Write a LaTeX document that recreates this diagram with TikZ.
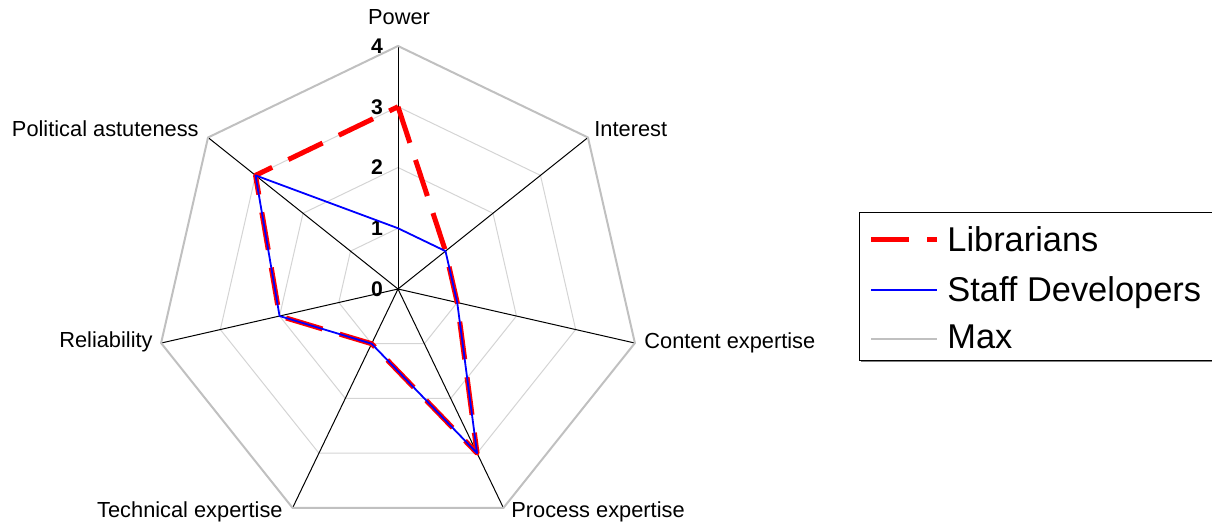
\documentclass[tikz,border=0pt]{standalone}
\usepackage{fontspec}
\setmainfont{Liberation Sans}
\definecolor{gridgray}{RGB}{212,212,212}
\definecolor{maxgray}{RGB}{192,192,192}
\definecolor{shadowgray}{RGB}{128,128,128}
\begin{document}
\begin{tikzpicture}[x=0.5pt,y=-0.5pt,
  axisline/.style={black, line width=0.5pt},
  gridring/.style={draw=gridgray, line width=0.5pt},
  maxline/.style={draw=maxgray, line width=1pt},
  libline/.style={draw=red, line width=2.5pt, dash pattern=on 19pt off 9pt, line join=round},
  staffline/.style={draw=blue, line width=0.9pt, line join=round},
  axislabel/.style={font=\fontsize{10.9}{13}\selectfont, inner sep=0pt},
  ticklabel/.style={font=\bfseries\fontsize{10.6}{12}\selectfont, inner sep=0pt},
  legtext/.style={font=\fontsize{17.2}{20}\selectfont, inner sep=0pt, anchor=base west}]
\useasboundingbox (0,0) rectangle (1212,524);

% centre of the radar and the seven axes (value 4 = radius 243)
\coordinate (O) at (398,289);
\begin{scope}[shift={(O)}]
  \foreach \k in {0,...,6} {
    \pgfmathsetmacro\ang{-90+\k*360/7}
    \coordinate (ax\k) at (\ang:243);
    \foreach \v in {1,2,3} {\coordinate (g\v-\k) at (\ang:\v*60.75);}
  }
  % Librarians
  \foreach \v [count=\k from 0] in {3,1,1,3,1,2,3} {
    \pgfmathsetmacro\ang{-90+\k*360/7}
    \coordinate (L\k) at (\ang:\v*60.75);
  }
  % Staff Developers
  \foreach \v [count=\k from 0] in {1,1,1,3,1,2,3} {
    \pgfmathsetmacro\ang{-90+\k*360/7}
    \coordinate (S\k) at (\ang:\v*60.75);
  }
\end{scope}

% inner grid rings
\foreach \v in {1,2,3}
  \draw[gridring] (g\v-0) \foreach \k in {1,...,6}{ -- (g\v-\k)} -- cycle;

% spokes
\foreach \k in {0,...,6}
  \draw[axisline] (O) -- (ax\k);

% value scale
\foreach \v in {0,...,4}
  \node[ticklabel] (t\v) at (377,{289-\v*60.75}) {\v};

% data series
\draw[libline] (L0) -- (L1) -- (L2) -- (L3) -- (L4) -- (L5) -- (L6) -- cycle;
\draw[staffline] (S0) -- (S1) -- (S2) -- (S3) -- (S4) -- (S5) -- (S6) -- cycle;
\draw[maxline] (ax0) -- (ax1) -- (ax2) -- (ax3) -- (ax4) -- (ax5) -- (ax6) -- cycle;

% axis names
\node[axislabel, anchor=base]      (lPow) at (399,25)  {Power};
\node[axislabel, anchor=base west] (lInt) at (594,137) {Interest};
\node[axislabel, anchor=base west] (lCon) at (644,349) {Content expertise};
\node[axislabel, anchor=base west] (lPro) at (511,517) {Process expertise};
\node[axislabel, anchor=base east] (lTec) at (283,517) {Technical expertise};
\node[axislabel, anchor=base east] (lRel) at (153,348) {Reliability};
\node[axislabel, anchor=base east] (lPol) at (199,137) {Political astuteness};

% legend
\fill[shadowgray] (861,215) rectangle (1216,362);
\draw[black, line width=0.5pt, fill=white] (859,213) rectangle (1214,360);
\coordinate (k1a) at (871,239.5); \coordinate (k1b) at (937,239.5);
\coordinate (k2a) at (871,290);   \coordinate (k2b) at (937,290);
\coordinate (k3a) at (871,339);   \coordinate (k3b) at (937,339);
\draw[libline] (k1a) -- (k1b);
\draw[staffline] (k2a) -- (k2b);
\draw[maxline] (k3a) -- (k3b);
\node[legtext] (n1) at (947,251.5) {Librarians};
\node[legtext] (n2) at (947,301.5) {Staff Developers};
\node[legtext] (n3) at (947,348.5) {Max};
\end{tikzpicture}
\end{document}
